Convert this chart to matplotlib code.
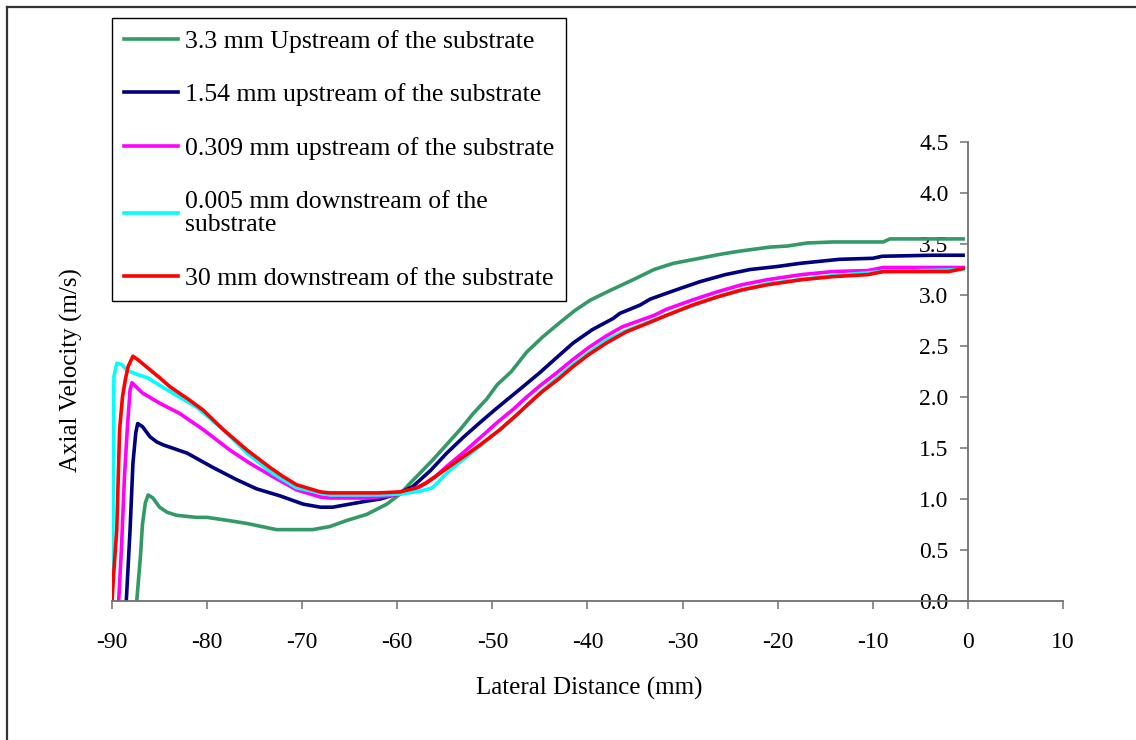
import matplotlib
matplotlib.use('Agg')
from matplotlib import pyplot as plt
from matplotlib.lines import Line2D

plt.rcParams['font.family'] = ['Liberation Serif', 'DejaVu Serif']

# 3.3 mm upstream
x_up33 = [-87.4, -87.0, -86.8, -86.5, -86.2, -85.7, -85.0, -84.2, -83.2, -81.1, -80.0, -77.8,
          -75.8, -72.7, -68.9, -67.1, -65.3, -63.2, -61.1, -59.7, -58.7, -56.3, -53.4, -52.0,
          -50.6, -49.5, -48.0, -46.4, -44.7, -42.9, -41.3, -39.7, -37.5, -35.2, -33.0, -31.0,
          -28.2, -26.0, -24.0, -20.8, -19.0, -16.9, -14.2, -8.9, -8.2, -0.5]
y_up33 = [0.0, 0.45, 0.75, 0.96, 1.04, 1.01, 0.92, 0.87, 0.84, 0.82, 0.82, 0.79,
          0.76, 0.70, 0.70, 0.73, 0.79, 0.85, 0.95, 1.05, 1.15, 1.38, 1.68, 1.84,
          1.98, 2.12, 2.25, 2.44, 2.59, 2.73, 2.85, 2.95, 3.05, 3.15, 3.25, 3.31,
          3.36, 3.40, 3.43, 3.47, 3.48, 3.51, 3.52, 3.52, 3.55, 3.55]

# 1.54 mm upstream
x_up154 = [-88.5, -88.1, -87.8, -87.5, -87.3, -86.8, -86.0, -85.3, -84.6, -82.1, -79.4, -76.9,
           -74.8, -72.3, -69.9, -68.1, -66.8, -65.0, -63.2, -61.8, -60.0, -58.4, -56.5, -54.8,
           -53.0, -51.3, -49.8, -48.5, -46.8, -45.0, -43.2, -41.5, -39.5, -37.3, -36.6, -34.5,
           -33.4, -31.0, -28.2, -25.5, -22.9, -20.0, -17.7, -13.5, -10.0, -9.0, -3.7, -0.5]
y_up154 = [0.0, 0.70, 1.35, 1.65, 1.74, 1.71, 1.61, 1.56, 1.53, 1.45, 1.31, 1.19,
           1.10, 1.03, 0.95, 0.92, 0.92, 0.95, 0.98, 1.00, 1.05, 1.12, 1.28, 1.45,
           1.61, 1.75, 1.87, 1.97, 2.10, 2.24, 2.39, 2.53, 2.66, 2.77, 2.82, 2.90,
           2.96, 3.04, 3.13, 3.20, 3.25, 3.28, 3.31, 3.35, 3.36, 3.38, 3.39, 3.39]

# 0.309 mm upstream
x_up0309 = [-89.3, -89.0, -88.7, -88.4, -88.1, -87.9, -86.8, -85.0, -82.9, -80.4, -77.6, -75.5,
            -73.1, -70.6, -68.1, -67.1, -63.0, -61.0, -59.7, -57.6, -56.0, -54.8, -53.0, -51.3,
            -49.5, -47.8, -46.4, -45.0, -43.2, -41.5, -39.8, -38.0, -36.3, -34.5, -33.0, -31.7,
            -29.0, -26.4, -23.8, -21.1, -17.5, -14.2, -10.5, -8.9, -0.5]
y_up0309 = [0.0, 0.53, 1.20, 1.68, 2.07, 2.14, 2.04, 1.94, 1.84, 1.68, 1.48, 1.35,
            1.22, 1.09, 1.02, 1.01, 1.01, 1.03, 1.05, 1.12, 1.22, 1.32, 1.46, 1.60,
            1.75, 1.88, 2.00, 2.11, 2.24, 2.37, 2.49, 2.60, 2.69, 2.75, 2.80, 2.86,
            2.95, 3.03, 3.10, 3.15, 3.20, 3.23, 3.24, 3.27, 3.27]

# 0.005 mm downstream
x_dn0005 = [-90.0, -89.9, -89.8, -89.5, -89.0, -88.4, -87.3, -86.3, -84.2, -81.1, -78.3, -75.8,
            -73.1, -70.6, -67.1, -62.0, -59.5, -57.5, -56.3, -54.5, -51.3, -49.2, -47.0, -45.0,
            -43.0, -41.5, -38.0, -35.9, -31.7, -26.4, -21.1, -14.2, -8.9, -0.5]
y_dn0005 = [0.0, 0.80, 2.20, 2.33, 2.32, 2.26, 2.22, 2.19, 2.07, 1.90, 1.68, 1.45,
            1.25, 1.11, 1.04, 1.04, 1.05, 1.08, 1.11, 1.28, 1.52, 1.68, 1.86, 2.04,
            2.20, 2.32, 2.56, 2.65, 2.80, 2.98, 3.11, 3.19, 3.23, 3.25]

# 30 mm downstream
x_dn30 = [-90.0, -89.8, -89.5, -89.2, -88.9, -88.6, -88.3, -87.8, -87.2, -86.3, -85.0, -83.9,
          -82.0, -80.4, -78.3, -75.8, -73.4, -72.0, -70.6, -68.1, -67.1, -62.0, -59.7, -58.0,
          -56.9, -54.5, -52.5, -51.3, -49.2, -47.5, -46.0, -44.8, -43.0, -41.5, -39.8, -38.0,
          -35.9, -33.5, -31.7, -29.0, -26.4, -23.8, -21.1, -17.5, -14.2, -10.5, -8.9, -2.0, -0.5]
y_dn30 = [0.0, 0.30, 0.70, 1.68, 2.00, 2.17, 2.30, 2.40, 2.36, 2.29, 2.19, 2.10,
          1.98, 1.87, 1.68, 1.48, 1.31, 1.22, 1.14, 1.07, 1.06, 1.06, 1.07, 1.11,
          1.16, 1.32, 1.45, 1.53, 1.68, 1.82, 1.95, 2.05, 2.18, 2.30, 2.42, 2.53,
          2.64, 2.73, 2.80, 2.90, 2.98, 3.05, 3.10, 3.15, 3.18, 3.20, 3.23, 3.23, 3.26]

labels = ['3.3 mm Upstream of the substrate',
          '1.54 mm upstream of the substrate',
          '0.309 mm upstream of the substrate',
          '0.005 mm downstream of the\nsubstrate',
          '30 mm downstream of the substrate']
colors = ['#339966', '#000080', '#FF00FF', '#00FFFF', '#FF0000']

xticks = list(range(-90, 11, 10))
yticks = [0.0, 0.5, 1.0, 1.5, 2.0, 2.5, 3.0, 3.5, 4.0, 4.5]

fig = plt.figure(figsize=(11.36, 7.4), dpi=100)
ax = fig.add_axes([0.0986, 0.1878, 0.8371, 0.6203])

series = [(x_up33, y_up33), (x_up154, y_up154), (x_up0309, y_up0309),
          (x_dn0005, y_dn0005), (x_dn30, y_dn30)]
for (xs, ys), lab, c in zip(series, labels, colors):
    ax.plot(xs, ys, color=c, lw=2.6, label=lab, solid_joinstyle='round')

ax.set_xlim(-90, 10)
ax.set_ylim(0, 4.5)
ax.set_xticks(xticks)
ax.set_xticklabels([str(t) for t in xticks])
ax.set_yticks(yticks)
ax.set_yticklabels([f'{t:.1f}' for t in yticks])

ax.spines['left'].set_position(('data', 0))
ax.spines['bottom'].set_position(('data', 0))
ax.spines['top'].set_visible(False)
ax.spines['right'].set_visible(False)
for s in ['left', 'bottom']:
    ax.spines[s].set_color('#707070')
    ax.spines[s].set_linewidth(1.3)
ax.tick_params(axis='both', direction='out', length=6, width=1.1, color='#707070',
               labelsize=17, labelcolor='black')
ax.tick_params(axis='x', pad=16)
ax.tick_params(axis='y', pad=8)

ax.set_xlabel('Lateral Distance (mm)', fontsize=18)
ax.xaxis.set_label_coords(0.5016, -0.166)
ax.set_ylabel('Axial Velocity (m/s)', fontsize=18)
ax.yaxis.set_label_coords(-0.031, 0.503)

leg = ax.legend(loc='upper left', bbox_to_anchor=(0.0986, 0.9757),
                bbox_transform=fig.transFigure, borderaxespad=0, fontsize=18.5,
                frameon=True, fancybox=False, edgecolor='black', framealpha=1,
                handlelength=2.1, handletextpad=0.3, labelspacing=1.2,
                borderpad=0.45)
leg.get_frame().set_linewidth(1.0)
for t in leg.get_texts():
    t.set_linespacing(1.05)

# outer chart frame (only top and left edges visible)
fig.add_artist(Line2D([0.0062, 1.0], [0.9905, 0.9905], transform=fig.transFigure,
                      color='#333333', lw=1.6))
fig.add_artist(Line2D([0.0062, 0.0062], [0.0, 0.9905], transform=fig.transFigure,
                      color='#333333', lw=1.6))

fig.savefig('out.png', dpi=100)
